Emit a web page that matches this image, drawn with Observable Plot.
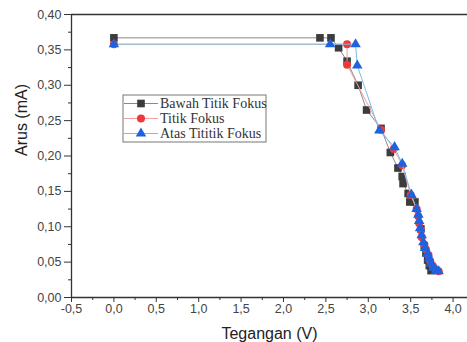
<!DOCTYPE html>
<html>
<head>
<meta charset="utf-8">
<script src="https://cdn.jsdelivr.net/npm/d3@7"></script>
<script src="https://cdn.jsdelivr.net/npm/@observablehq/plot@0.6"></script>
<style>
  html, body { margin: 0; padding: 0; background: #fff; }
  #chart { width: 467px; height: 342px; }
</style>
</head>
<body>
<div id="chart"></div>
<script>
// ---- Data ----
const seriesNames = ["Bawah Titik Fokus", "Titik Fokus", "Atas Tititik Fokus"];

const bawahV = [0.00, 2.43, 2.56, 2.65, 2.75, 2.88, 2.98, 3.15, 3.26, 3.35, 3.40, 3.41, 3.47, 3.49, 3.55, 3.62, 3.66, 3.68, 3.70, 3.72, 3.74];
const bawahI = [0.367, 0.367, 0.367, 0.353, 0.334, 0.300, 0.265, 0.239, 0.205, 0.183, 0.171, 0.161, 0.147, 0.135, 0.135, 0.097, 0.073, 0.063, 0.053, 0.045, 0.038];

const fokusV = [0.00, 2.75, 2.75, 3.15, 3.30, 3.40, 3.50, 3.57, 3.59, 3.60, 3.62, 3.63, 3.66, 3.68, 3.71, 3.73, 3.76, 3.79, 3.83];
const fokusI = [0.358, 0.358, 0.329, 0.237, 0.210, 0.187, 0.145, 0.125, 0.115, 0.105, 0.095, 0.085, 0.075, 0.068, 0.060, 0.052, 0.045, 0.040, 0.037];

const atasV = [0.00, 2.55, 2.85, 2.87, 3.13, 3.31, 3.40, 3.51, 3.57, 3.59, 3.60, 3.61, 3.63, 3.65, 3.67, 3.70, 3.72, 3.74, 3.77, 3.80, 3.83];
const atasI = [0.358, 0.358, 0.358, 0.328, 0.236, 0.2125, 0.189, 0.145, 0.125, 0.117, 0.108, 0.098, 0.088, 0.078, 0.070, 0.062, 0.055, 0.048, 0.042, 0.038, 0.037];

const xTicks = [-0.5, 0, 0.5, 1, 1.5, 2, 2.5, 3, 3.5, 4];
const xMinor = [-0.25, 0.25, 0.75, 1.25, 1.75, 2.25, 2.75, 3.25, 3.75];
const yTicks = [0, 0.05, 0.10, 0.15, 0.20, 0.25, 0.30, 0.35, 0.40];
const yMinor = [0.025, 0.075, 0.125, 0.175, 0.225, 0.275, 0.325, 0.375];

const xLabel = "Tegangan (V)";
const yLabel = "Arus (mA)";

// ---- Build tables ----
const toRows = (V, I) => V.map((v, i) => ({v, i: I[i]}));
const bawah = toRows(bawahV, bawahI);
const fokus = toRows(fokusV, fokusI);
const atas = toRows(atasV, atasI);

const styles = [
  {line: "#8a8a8a", fill: "#3c3c3c", symbol: "square", r: 4.3},
  {line: "#f2a0a0", fill: "#ec3a3a", symbol: "circle", r: 4.0},
  {line: "#7fbde0", fill: "#1f62e0", symbol: "triangle", r: 3.9}
];

const axisColor = "#333";
const comma = (d, n) => d.toFixed(n).replace(".", ",");

const chart = Plot.plot({
  width: 467,
  height: 342,
  marginLeft: 71,
  marginRight: 0,
  marginTop: 14,
  marginBottom: 45,
  style: {fontFamily: "'Liberation Sans', Arial, sans-serif", fontSize: "12.5px", color: axisColor, background: "#fff"},
  x: {domain: [-0.5, 4.17]},
  y: {domain: [0, 0.40]},
  marks: [
    // frame
    Plot.ruleY([0.40], {stroke: axisColor, strokeWidth: 1.3}),
    Plot.ruleX([-0.5], {stroke: axisColor, strokeWidth: 1.3}),
    Plot.ruleY([0], {stroke: axisColor, strokeWidth: 1.3}),
    // axes
    Plot.axisX({ticks: xTicks, tickSize: 5, tickPadding: 2, tickFormat: d => comma(d, 1), label: null, stroke: axisColor, fill: "#444", fontSize: 12.5}),
    Plot.axisX({ticks: xMinor, tickSize: 3, tickFormat: () => "", label: null, stroke: axisColor}),
    Plot.axisY({ticks: yTicks, tickSize: 7, tickPadding: 3, tickFormat: d => comma(d, 2), label: null, stroke: axisColor, fill: "#444", fontSize: 12.5}),
    Plot.axisY({ticks: yMinor, tickSize: 3, tickFormat: () => "", label: null, stroke: axisColor}),
    // series
    Plot.line(bawah, {x: "v", y: "i", stroke: styles[0].line, strokeWidth: 1}),
    Plot.dot(bawah, {x: "v", y: "i", symbol: styles[0].symbol, r: styles[0].r, fill: styles[0].fill}),
    Plot.line(fokus, {x: "v", y: "i", stroke: styles[1].line, strokeWidth: 1}),
    Plot.dot(fokus, {x: "v", y: "i", symbol: styles[1].symbol, r: styles[1].r, fill: styles[1].fill}),
    Plot.line(atas, {x: "v", y: "i", stroke: styles[2].line, strokeWidth: 1}),
    Plot.dot(atas, {x: "v", y: "i", symbol: styles[2].symbol, r: styles[2].r, fill: styles[2].fill}),
    // axis titles
    Plot.text([xLabel], {frameAnchor: "bottom", dy: 36, fontSize: 16, fill: "#222", lineAnchor: "middle"}),
    Plot.text([yLabel], {frameAnchor: "left", dx: -50, rotate: -90, fontSize: 16, fill: "#222", lineAnchor: "middle"})
  ]
});

// ---- Legend (layout element drawn into the same SVG) ----
const svg = d3.select(chart);
const lg = svg.append("g").attr("text-anchor", "start");
const box = {x: 123, y: 95, w: 143, h: 47};
lg.append("rect").attr("x", box.x).attr("y", box.y).attr("width", box.w).attr("height", box.h)
  .attr("fill", "#fff").attr("stroke", "#777").attr("stroke-width", 1);
const symbolOf = {square: d3.symbolSquare, circle: d3.symbolCircle, triangle: d3.symbolTriangle};
seriesNames.forEach((name, k) => {
  const cy = box.y + 8.5 + k * 15;
  const st = styles[k];
  lg.append("line").attr("x1", box.x + 1).attr("x2", box.x + 35).attr("y1", cy).attr("y2", cy)
    .attr("stroke", st.line).attr("stroke-width", 1);
  lg.append("path").attr("d", d3.symbol(symbolOf[st.symbol], Math.PI * st.r * st.r)())
    .attr("transform", `translate(${box.x + 18},${cy})`).attr("fill", st.fill);
  lg.append("text").attr("x", box.x + 37).attr("y", cy).attr("dy", "0.35em")
    .attr("text-anchor", "start")
    .attr("font-family", "'Liberation Serif', 'Times New Roman', serif").attr("font-size", 14)
    .attr("fill", "#333").text(name);
});

document.getElementById("chart").appendChild(chart);
</script>
</body>
</html>
